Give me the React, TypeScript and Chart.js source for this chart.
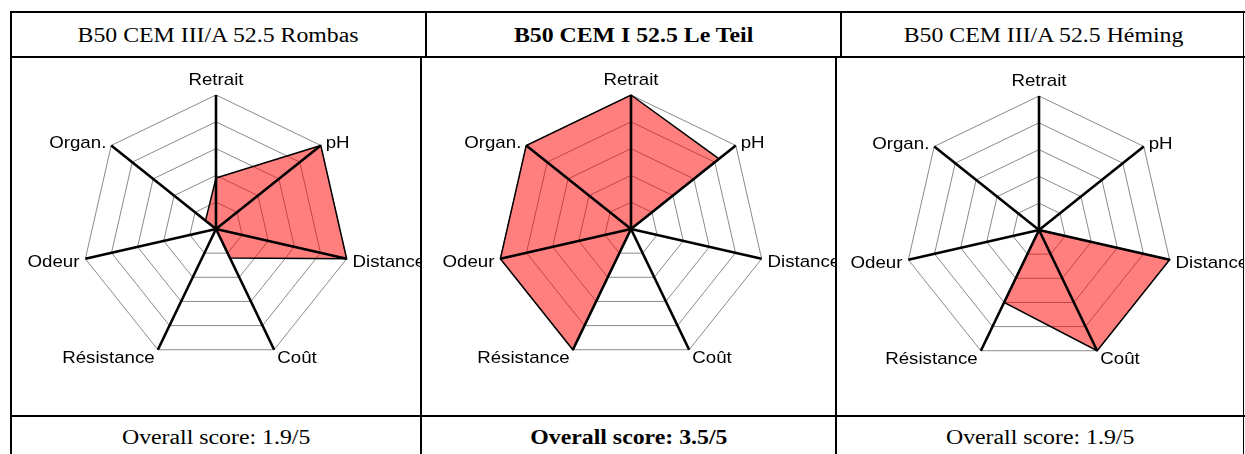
import React, { useEffect, useRef } from "react";
import { Chart, registerables } from "chart.js";

Chart.register(...registerables);

// ---------- data ----------
const axisLabels = ["Retrait", "pH", "Distance", "Coût", "Résistance", "Odeur", "Organ."];
const columnTitles = ["B50 CEM III/A 52.5 Rombas", "B50 CEM I 52.5 Le Teil", "B50 CEM III/A 52.5 Héming"];
const scoresRombas = [1.9, 5, 5, 1.2, 0, 0, 0.5];
const scoresLeTeil = [5, 4.2, 0, 0, 5, 5, 5];
const scoresHeming = [0, 0, 5, 5, 3, 0, 0];
const overallScores = ["1.9/5", "3.5/5", "1.9/5"];
const boldColumns = [false, true, false];
const scaleMin = 0;
const scaleMax = 5;
const scaleStep = 1;

// ---------- style / layout ----------
const LABEL_FONT = '17px "Liberation Sans", Arial, sans-serif';
const LABEL_STRETCH = 1.1;
const TEXT_STRETCH = 1.19;
const TEXT_SIZE = 20;

const overlayPlugin = {
  id: "overlay",
  afterDatasetsDraw(chart: any) {
    const scale = chart.scales.r;
    const ctx = chart.ctx;
    const labels = chart.data.labels as string[];
    ctx.save();
    ctx.strokeStyle = "#000";
    ctx.lineWidth = 2.6;
    for (let i = 0; i < labels.length; i++) {
      const p = scale.getPointPosition(i, scale.drawingArea);
      ctx.beginPath();
      ctx.moveTo(scale.xCenter, scale.yCenter);
      ctx.lineTo(p.x, p.y);
      ctx.stroke();
    }
    ctx.font = LABEL_FONT;
    ctx.fillStyle = "#000";
    ctx.textBaseline = "alphabetic";
    for (let i = 0; i < labels.length; i++) {
      const p = scale.getPointPosition(i, scale.drawingArea);
      const a = scale.getIndexAngle(i);
      const s = Math.sin(a);
      const c = Math.cos(a);
      let x = p.x;
      let y = p.y;
      let align: CanvasTextAlign = "center";
      if (Math.abs(s) < 0.01) {
        y = p.y - 10;
      } else {
        align = s > 0 ? "left" : "right";
        x = p.x + Math.sign(s) * (1 + 5 * Math.abs(s));
        y = p.y + 7 - 6.6 * c;
      }
      ctx.save();
      ctx.translate(x, y);
      ctx.scale(LABEL_STRETCH, 1);
      ctx.textAlign = align;
      ctx.fillText(labels[i], 0, 0);
      ctx.restore();
    }
    ctx.restore();
  },
};

type RadarProps = {
  values: number[];
  left: number;
  top: number;
  width: number;
  height: number;
  cx: number;
  cy: number;
  radius: number;
};

function Radar({ values, left, top, width, height, cx, cy, radius }: RadarProps) {
  const ref = useRef<HTMLCanvasElement>(null);
  useEffect(() => {
    if (!ref.current) return;
    const rx = cx - left;
    const ry = cy - top;
    const chart = new Chart(ref.current, {
      type: "radar",
      data: {
        labels: axisLabels,
        datasets: [
          {
            data: values,
            backgroundColor: "rgba(255,0,0,0.5)",
            borderColor: "#000",
            borderWidth: 1.5,
            pointRadius: 0,
            pointHoverRadius: 0,
            fill: true,
          },
        ],
      },
      options: {
        responsive: false,
        animation: false,
        devicePixelRatio: 1,
        layout: {
          padding: {
            left: rx - radius,
            right: width - (rx + radius),
            top: ry - radius,
            bottom: height - (ry + radius),
          },
        },
        plugins: { legend: { display: false }, tooltip: { enabled: false } },
        scales: {
          r: {
            min: scaleMin,
            max: scaleMax,
            ticks: { display: false, stepSize: scaleStep },
            grid: { color: "#8a8a8a", lineWidth: 1 },
            angleLines: { display: false },
            pointLabels: { display: false },
          },
        },
      },
      plugins: [overlayPlugin],
    });
    return () => chart.destroy();
  }, []);
  return (
    <canvas
      ref={ref}
      width={width}
      height={height}
      style={{ position: "absolute", left, top, width, height }}
    />
  );
}

const line = (left: number, top: number, width: number, height: number) => (
  <div style={{ position: "absolute", left, top, width, height, background: "#000" }} />
);

function Cell({ left, top, width, height, text, bold }: any) {
  return (
    <div
      style={{
        position: "absolute",
        left,
        top,
        width,
        height,
        display: "flex",
        alignItems: "center",
        justifyContent: "center",
      }}
    >
      <span
        style={{
          display: "inline-block",
          whiteSpace: "nowrap",
          fontFamily: '"Liberation Serif", "Times New Roman", serif',
          fontSize: TEXT_SIZE,
          lineHeight: 1,
          fontWeight: bold ? "bold" : "normal",
          transform: `scaleX(${TEXT_STRETCH})`,
          color: "#000",
        }}
      >
        {text}
      </span>
    </div>
  );
}

export default function App() {
  const headerCells = [
    { left: 12, width: 413 },
    { left: 427, width: 413 },
    { left: 842, width: 402 },
  ];
  const bodyCells = [
    { left: 12, width: 408, cx: 216, cy: 229, values: scoresRombas },
    { left: 422, width: 413, cx: 631, cy: 229, values: scoresLeTeil },
    { left: 837, width: 407, cx: 1039, cy: 230, values: scoresHeming },
  ];
  return (
    <div
      style={{
        position: "absolute",
        left: 0,
        top: 0,
        width: 1245,
        height: 454,
        background: "#fff",
        overflow: "hidden",
      }}
    >
      {bodyCells.map((c, i) => (
        <Radar
          key={i}
          values={c.values}
          left={c.left}
          top={58}
          width={c.width}
          height={357}
          cx={c.cx}
          cy={c.cy}
          radius={134}
        />
      ))}
      {headerCells.map((c, i) => (
        <Cell key={i} left={c.left} top={13} width={c.width} height={43} text={columnTitles[i]} bold={boldColumns[i]} />
      ))}
      {bodyCells.map((c, i) => (
        <Cell
          key={"s" + i}
          left={c.left}
          top={417}
          width={c.width}
          height={40}
          text={"Overall score: " + overallScores[i]}
          bold={boldColumns[i]}
        />
      ))}
      {line(10, 11, 1235, 2)}
      {line(10, 11, 2, 443)}
      {line(10, 56, 1235, 2)}
      {line(425, 11, 2, 47)}
      {line(840, 11, 2, 47)}
      {line(420, 56, 2, 398)}
      {line(835, 56, 2, 398)}
      {line(10, 415, 1235, 2)}
      {line(1243, 11, 1, 443)}
    </div>
  );
}
